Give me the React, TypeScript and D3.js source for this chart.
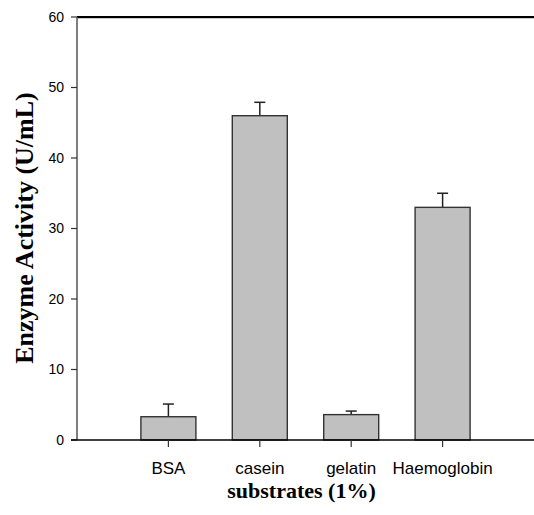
import React from "react";
import * as d3 from "d3";

const categories = ["BSA", "casein", "gelatin", "Haemoglobin"];
const values = [3.3, 46.0, 3.6, 33.0];
const errors = [1.8, 1.9, 0.5, 2.0];
const yTicks = [0, 10, 20, 30, 40, 50, 60];

export default function App() {
  const W = 534, H = 515;
  const left = 77, right = 534, top = 17, bottom = 440;
  const x = d3.scaleLinear().domain([0, categories.length + 1]).range([left, right]);
  const y = d3.scaleLinear().domain([0, 60]).range([bottom, top]);
  const barW = 55;
  return (
    <svg width={W} height={H} style={{ position: "absolute", left: 0, top: 0 }}>
      <rect width={W} height={H} fill="#fff" />
      {/* top border */}
      <line x1={left} x2={right} y1={top + 1.5} y2={top + 1.5} stroke="#ccc" strokeWidth={1} />
      <line x1={left} x2={right} y1={top} y2={top} stroke="#000" strokeWidth={1.8} />
      {/* bars */}
      {categories.map((c, i) => {
        const cx = x(i + 1);
        const v = values[i];
        const e = errors[i];
        return (
          <g key={c}>
            <line x1={cx} x2={cx} y1={y(v)} y2={y(v + e)} stroke="#222" strokeWidth={1.5} />
            <line x1={cx - 5.5} x2={cx + 5.5} y1={y(v + e)} y2={y(v + e)} stroke="#222" strokeWidth={1.5} />
            <rect x={cx - barW / 2} y={y(v)} width={barW} height={y(0) - y(v)} fill="#c0c0c0" stroke="#333" strokeWidth={1.4} />
          </g>
        );
      })}
      {/* y axis */}
      <line x1={left} x2={left} y1={top} y2={bottom} stroke="#555" strokeWidth={1.5} />
      {yTicks.map((t) => (
        <g key={t}>
          <line x1={left - 6} x2={left} y1={y(t)} y2={y(t)} stroke="#333" strokeWidth={1.2} />
          <text x={64} y={y(t)} dy="0.35em" textAnchor="end" fontFamily="Liberation Sans, Arial, sans-serif" fontSize={14} fill="#000">{t}</text>
        </g>
      ))}
      {/* x axis */}
      <line x1={left - 6} x2={right} y1={bottom} y2={bottom} stroke="#000" strokeWidth={1.6} />
      {categories.map((c, i) => (
        <g key={c}>
          <line x1={x(i + 1)} x2={x(i + 1)} y1={bottom} y2={bottom + 7} stroke="#333" strokeWidth={1.2} />
          <text x={x(i + 1)} y={473.5} textAnchor="middle" fontFamily="Liberation Sans, Arial, sans-serif" fontSize={17} fill="#000">{c}</text>
        </g>
      ))}
      <text x={301.5} y={497.5} textAnchor="middle" fontFamily="Liberation Serif, Times New Roman, serif" fontWeight="bold" fontSize={22} fill="#000">substrates (1%)</text>
      <text transform={`translate(33,228) rotate(-90)`} textAnchor="middle" fontFamily="Liberation Serif, Times New Roman, serif" fontWeight="bold" fontSize={26} fill="#000">Enzyme Activity (U/mL)</text>
    </svg>
  );
}
